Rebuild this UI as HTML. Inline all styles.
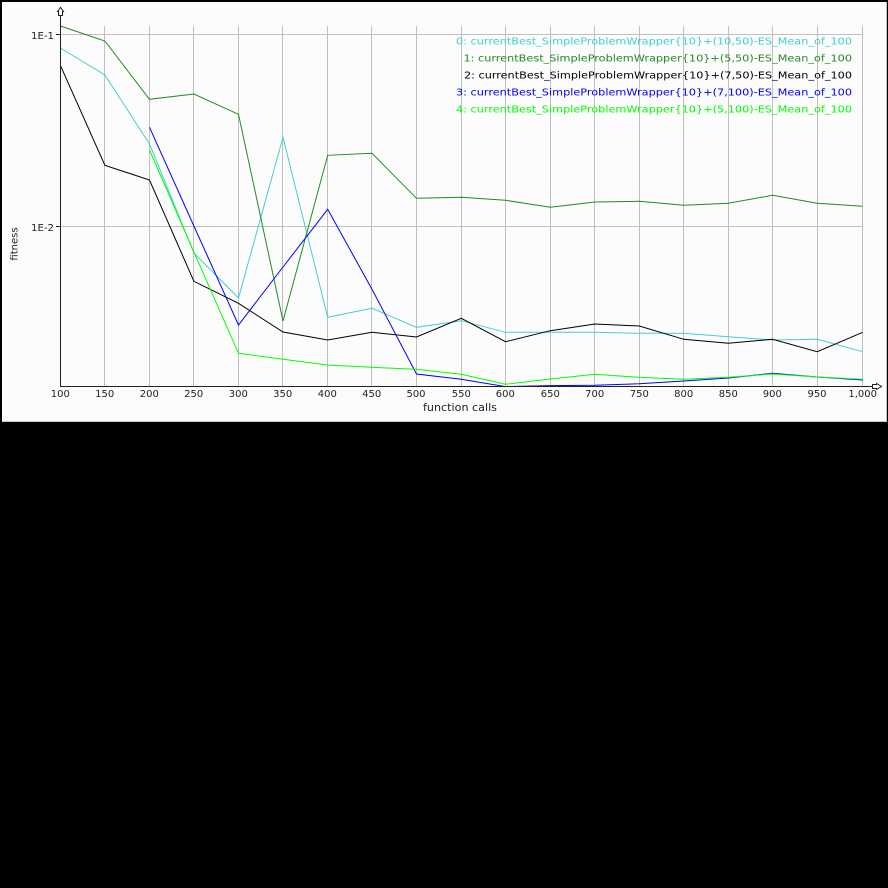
<!DOCTYPE html>
<html>
<head>
<meta charset="utf-8">
<style>
html,body{margin:0;padding:0;background:#000;}
svg{display:block;}
text{font-family:"DejaVu Sans","Liberation Sans",sans-serif;font-size:10px;}
</style>
</head>
<body>
<svg width="888" height="888" viewBox="0 0 888 888" xmlns="http://www.w3.org/2000/svg">
<rect x="0" y="0" width="888" height="888" fill="#000"/>
<rect x="0" y="0" width="887" height="422" fill="#fcfcfc"/>
<!-- borders -->
<line x1="0" y1="1" x2="887" y2="1" stroke="#000" stroke-width="2"/>
<line x1="1" y1="0" x2="1" y2="422" stroke="#000" stroke-width="2"/>
<line x1="2" y1="421.5" x2="887" y2="421.5" stroke="#c8c8c8" stroke-width="1"/>
<line x1="886.5" y1="2" x2="886.5" y2="422" stroke="#c8c8c8" stroke-width="1"/>

<!-- grid -->
<g stroke="#c0c0c0" stroke-width="1" shape-rendering="crispEdges">
<line x1="60" y1="34.5" x2="863" y2="34.5"/>
<line x1="60" y1="226.5" x2="863" y2="226.5"/>
<line x1="104.5" y1="26" x2="104.5" y2="386"/>
<line x1="149.5" y1="26" x2="149.5" y2="386"/>
<line x1="193.5" y1="26" x2="193.5" y2="386"/>
<line x1="238.5" y1="26" x2="238.5" y2="386"/>
<line x1="282.5" y1="26" x2="282.5" y2="386"/>
<line x1="327.5" y1="26" x2="327.5" y2="386"/>
<line x1="371.5" y1="26" x2="371.5" y2="386"/>
<line x1="416.5" y1="26" x2="416.5" y2="386"/>
<line x1="461.5" y1="26" x2="461.5" y2="386"/>
<line x1="505.5" y1="26" x2="505.5" y2="386"/>
<line x1="550.5" y1="26" x2="550.5" y2="386"/>
<line x1="594.5" y1="26" x2="594.5" y2="386"/>
<line x1="639.5" y1="26" x2="639.5" y2="386"/>
<line x1="683.5" y1="26" x2="683.5" y2="386"/>
<line x1="728.5" y1="26" x2="728.5" y2="386"/>
<line x1="772.5" y1="26" x2="772.5" y2="386"/>
<line x1="817.5" y1="26" x2="817.5" y2="386"/>
<line x1="862.5" y1="26" x2="862.5" y2="386"/>
</g>

<!-- legend -->
<g style="font-size:11px">
<text x="456" y="44.5" fill="#40d0d0" textLength="396" lengthAdjust="spacingAndGlyphs">0: currentBest_SimpleProblemWrapper{10}+(10,50)-ES_Mean_of_100</text>
<text x="463.5" y="61.5" fill="#228b22" textLength="388.5" lengthAdjust="spacingAndGlyphs">1: currentBest_SimpleProblemWrapper{10}+(5,50)-ES_Mean_of_100</text>
<text x="464" y="78.5" fill="#000" textLength="388" lengthAdjust="spacingAndGlyphs">2: currentBest_SimpleProblemWrapper{10}+(7,50)-ES_Mean_of_100</text>
<text x="456" y="95.5" fill="#0000ff" textLength="396" lengthAdjust="spacingAndGlyphs">3: currentBest_SimpleProblemWrapper{10}+(7,100)-ES_Mean_of_100</text>
<text x="456" y="112.5" fill="#00ff00" textLength="396" lengthAdjust="spacingAndGlyphs">4: currentBest_SimpleProblemWrapper{10}+(5,100)-ES_Mean_of_100</text>
</g>

<defs>
<clipPath id="pc"><rect x="60" y="0" width="810" height="386"/></clipPath>
</defs>

<g fill="none" stroke-width="1" clip-path="url(#pc)">
<polyline stroke="#40d0d0" points="60.5,48 104.9,75 149.5,144 193.9,253 238.5,298 283,137.3 327.7,317.3 372,308.3 416.5,327.3 461.3,320.7 505.5,332.3 550.3,332.3 594.8,332.3 639.3,333.3 683.8,333.3 728.3,336.7 772.5,340 817.2,339.3 862.7,351.7"/>
<polyline stroke="#228b22" points="60.5,26 104.9,41 149.5,99.3 193.9,94 238.5,114.3 283,321 327.7,155.3 372,153.3 416.5,198.3 461.3,197.3 505.5,200.3 550.3,207.3 594.8,202 639.3,201.3 683.8,205.3 728.3,203.3 772.5,195.3 817.2,203.3 862.7,206.3"/>
<polyline stroke="#000000" points="60.5,65.7 104.9,165.3 149.5,180 193.9,281.3 238.5,303.3 283,332 327.7,340 372,332.3 416.5,337 461.3,318.3 505.5,341.7 550.3,330.7 594.8,324 639.3,326 683.8,339.3 728.3,343.3 772.5,339.3 817.2,351.7 862.7,332.3"/>
<polyline stroke="#0000ff" points="149.5,127.3 193.9,226 238.5,325 283,267 327.7,209.3 372,289.3 416.5,374 461.3,379.3 505.5,386.6 550.3,385.6 594.8,385.3 639.3,383.7 683.8,381 728.3,378 772.5,373.3 817.2,377 862.7,380"/>
<polyline stroke="#00ff00" points="149.5,150 193.9,252 238.5,353.3 283,359.3 327.7,365 372,367.3 416.5,369.3 461.3,374.3 505.5,384.3 550.3,379 594.8,374.3 639.3,377.3 683.8,379.3 728.3,377.3 772.5,374 817.2,377 862.7,379.3"/>
</g>

<!-- axes -->
<g stroke="#222" stroke-width="1" fill="none" shape-rendering="crispEdges">
<line x1="60.5" y1="15" x2="60.5" y2="387"/>
<line x1="60" y1="386.5" x2="873" y2="386.5"/>
<line x1="56" y1="34.5" x2="60" y2="34.5"/>
<line x1="56" y1="226.5" x2="60" y2="226.5"/>
</g>
<path d="M58.5,15.5 L58.5,11.5 L57.5,11.5 L60.5,7.5 L63.5,11.5 L62.5,11.5 L62.5,15.5 Z" fill="none" stroke="#222" stroke-width="1"/>
<path d="M872.5,384.5 L876.5,384.5 L876.5,383.5 L881.5,386.5 L876.5,389.5 L876.5,388.5 L872.5,388.5 Z" fill="none" stroke="#222" stroke-width="1"/>

<!-- y labels -->
<g fill="#222">
<text x="31" y="39" textLength="23" lengthAdjust="spacingAndGlyphs">1E-1</text>
<text x="31" y="231" textLength="23" lengthAdjust="spacingAndGlyphs">1E-2</text>
</g>
<text x="0" y="0" fill="#222" text-anchor="middle" transform="translate(17.5,244) rotate(-90)">fitness</text>

<!-- x labels -->
<g fill="#222" text-anchor="middle">
<text x="60.3" y="397">100</text>
<text x="104.7" y="397">150</text>
<text x="149.3" y="397">200</text>
<text x="193.7" y="397">250</text>
<text x="238.3" y="397">300</text>
<text x="282.7" y="397">350</text>
<text x="327.3" y="397">400</text>
<text x="371.7" y="397">450</text>
<text x="416" y="397">500</text>
<text x="461.3" y="397">550</text>
<text x="505.3" y="397">600</text>
<text x="550.3" y="397">650</text>
<text x="594.7" y="397">700</text>
<text x="639.3" y="397">750</text>
<text x="683.7" y="397">800</text>
<text x="728.3" y="397">850</text>
<text x="772.3" y="397">900</text>
<text x="817" y="397">950</text>
<text x="862.7" y="397">1,000</text>
</g>
<text x="423" y="411" fill="#222" style="font-size:11px" textLength="74" lengthAdjust="spacingAndGlyphs">function calls</text>
</svg>
</body>
</html>
